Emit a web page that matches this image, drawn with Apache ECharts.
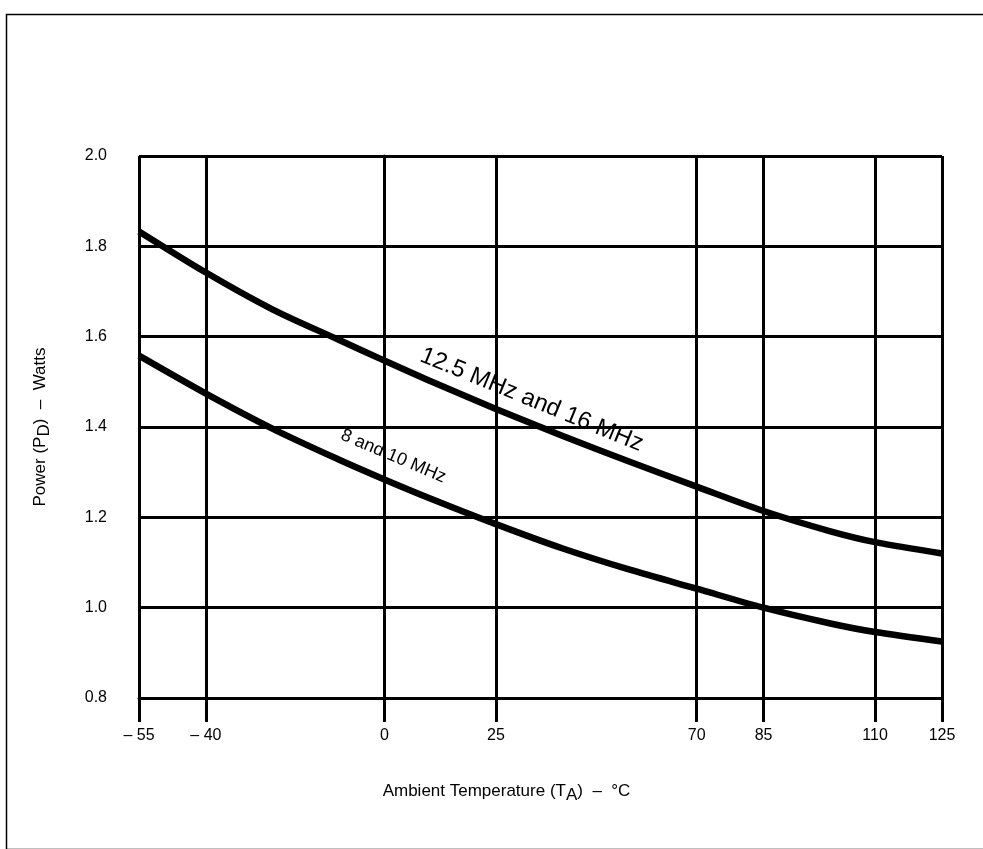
<!DOCTYPE html>
<html>
<head>
<meta charset="utf-8">
<script src="https://cdn.jsdelivr.net/npm/echarts@6/dist/echarts.min.js"></script>
<style>
  html, body { margin: 0; padding: 0; background: #fff; }
  #chart { width: 983px; height: 849px; }
</style>
</head>
<body>
<div id="chart"></div>
<script>
// ambient temperature, deg C
const temps = [-55, -40, -25, -10, 0, 10, 25, 40, 55, 70, 85, 100, 110, 125]
// power dissipation, watts
const power16 = [1.833, 1.742, 1.66, 1.592, 1.547, 1.503, 1.44, 1.38, 1.323, 1.268, 1.214, 1.169, 1.145, 1.12]
const power10 = [1.558, 1.474, 1.396, 1.327, 1.284, 1.243, 1.185, 1.131, 1.084, 1.042, 1.0, 0.965, 0.946, 0.925]
// grid positions on the temperature axis
const tempTicks = [-55, -40, 0, 25, 70, 85, 110, 125]

const font = '"Liberation Sans", Arial, sans-serif'
const chart = echarts.init(document.getElementById('chart'))

function pairs(ys) {
  return temps.map((t, i) => [t, ys[i]])
}

function curve(name, ys) {
  return {
    name: name,
    type: 'line',
    smooth: 0.3,
    showSymbol: false,
    symbol: 'none',
    lineStyle: { color: '#000', width: 6.5 },
    data: pairs(ys),
    z: 5
  }
}

const subStyle = { fontFamily: font, fontSize: 17, color: '#000', verticalAlign: 'bottom', padding: [9, 0, 0, 0] }

chart.setOption({
  animation: false,
  grid: { left: 139, right: 41, top: 156, bottom: 151 },
  xAxis: {
    type: 'value',
    min: -55,
    max: 125,
    name: 'Ambient Temperature (T{sub|A})  \u2013  \u00b0C',
    nameLocation: 'middle',
    nameGap: 80,
    nameTextStyle: {
      fontFamily: font, fontSize: 17, color: '#000', padding: [0, 68, 0, 0],
      rich: { sub: subStyle }
    },
    axisLine: { onZero: false, lineStyle: { color: '#000', width: 3 } },
    axisTick: { length: 24, lineStyle: { color: '#000', width: 3 }, customValues: tempTicks },
    axisLabel: {
      customValues: tempTicks,
      margin: 30,
      fontFamily: font, fontSize: 16, color: '#000',
      formatter: v => v < 0 ? '\u2013 ' + (-v) : String(v)
    },
    splitLine: { show: true, lineStyle: { color: '#000', width: 3 } }
  },
  yAxis: {
    type: 'value',
    min: 0.8,
    max: 2.0,
    interval: 0.2,
    name: 'Power (P{sub|D})  \u2013  Watts',
    nameLocation: 'middle',
    nameGap: 86,
    nameRotate: 90,
    nameTextStyle: {
      fontFamily: font, fontSize: 17, color: '#000',
      rich: { sub: subStyle }
    },
    axisLine: { lineStyle: { color: '#000', width: 3 } },
    axisTick: { length: 22, lineStyle: { color: '#000', width: 3 } },
    axisLabel: {
      margin: 32,
      fontFamily: font, fontSize: 16, color: '#000',
      formatter: v => v.toFixed(1)
    },
    splitLine: { show: true, lineStyle: { color: '#000', width: 3 } }
  },
  series: [
    curve('12.5 MHz and 16 MHz', power16),
    curve('8 and 10 MHz', power10)
  ]
})

// curve labels, placed in data coordinates
const p1 = chart.convertToPixel({ gridIndex: 0 }, [33, 1.46])
const p2 = chart.convertToPixel({ gridIndex: 0 }, [2, 1.335])

chart.setOption({
  graphic: [
    {
      type: 'rect',
      left: 4, top: 12,
      shape: { width: 1000, height: 835 },
      style: { fill: 'none', stroke: '#000', lineWidth: 1.5 },
      silent: true
    },
    {
      type: 'text',
      x: p1[0], y: p1[1],
      rotation: -0.39,
      style: {
        text: '12.5 MHz and 16 MHz',
        fontFamily: font, fontSize: 24, fill: '#000',
        align: 'center', verticalAlign: 'middle'
      },
      z: 10
    },
    {
      type: 'text',
      x: p2[0], y: p2[1],
      rotation: -0.40,
      style: {
        text: '8 and 10 MHz',
        fontFamily: font, fontSize: 18, fill: '#000',
        align: 'center', verticalAlign: 'middle'
      },
      z: 10
    }
  ]
})
</script>
</body>
</html>
